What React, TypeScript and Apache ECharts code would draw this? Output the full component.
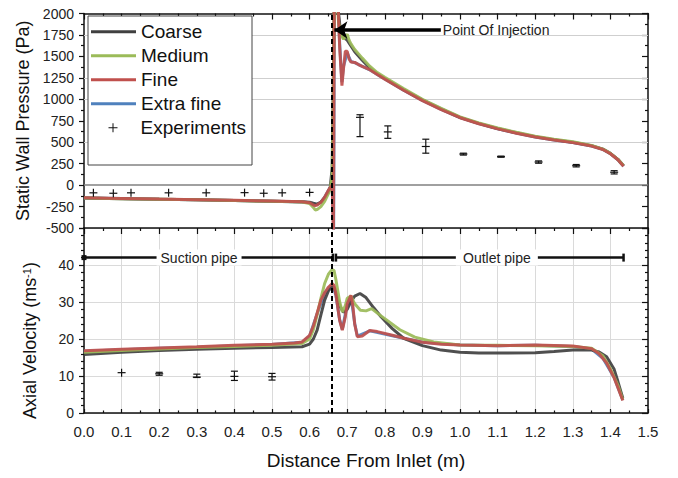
import React, { useEffect, useRef } from 'react';
import * as echarts from 'echarts';

const FONT = '"Liberation Sans", Arial, Helvetica, sans-serif';

const seriesNames = ['Coarse', 'Medium', 'Fine', 'Extra fine'];
const seriesColors = ['#404040', '#9BBB59', '#C0504D', '#4F81BD'];

// ---------- Static wall pressure (Pa) ----------
const coarsePx = [0, 0.1, 0.2, 0.3, 0.4, 0.5, 0.58, 0.6, 0.61, 0.62, 0.63, 0.64, 0.65, 0.655, 0.66, 0.663, 0.666, 0.672, 0.677, 0.682, 0.69, 0.70, 0.72, 0.74, 0.76, 0.78, 0.80, 0.85, 0.90, 0.95, 1.00, 1.05, 1.10, 1.15, 1.20, 1.25, 1.30, 1.35, 1.38, 1.40, 1.42, 1.435];
const coarseP = [-150, -158, -165, -172, -180, -188, -195, -200, -212, -222, -200, -150, -80, -20, 200, 1200, 2300, 2300, 2000, 1800, 1720, 1690, 1555, 1455, 1365, 1298, 1243, 1113, 993, 888, 790, 720, 660, 610, 565, 530, 500, 460, 420, 370, 300, 225];

const mediumPx = [0, 0.1, 0.2, 0.3, 0.4, 0.5, 0.58, 0.6, 0.61, 0.615, 0.62, 0.63, 0.64, 0.65, 0.655, 0.66, 0.663, 0.666, 0.672, 0.677, 0.683, 0.69, 0.70, 0.705, 0.71, 0.72, 0.74, 0.76, 0.78, 0.80, 0.85, 0.90, 0.95, 1.00, 1.05, 1.10, 1.15, 1.20, 1.25, 1.30, 1.35, 1.38, 1.40, 1.42, 1.435];
const mediumP = [-150, -158, -165, -172, -180, -188, -198, -215, -260, -290, -285, -250, -190, -100, -40, 100, 1000, 2300, 2300, 1900, 1760, 1700, 1760, 1690, 1645, 1580, 1480, 1385, 1312, 1257, 1125, 1000, 895, 795, 725, 665, 615, 570, 535, 505, 462, 420, 370, 300, 225];

const finePx = [0, 0.1, 0.2, 0.3, 0.4, 0.5, 0.58, 0.6, 0.61, 0.615, 0.62, 0.63, 0.64, 0.65, 0.66, 0.6635, 0.6655, 0.674, 0.68, 0.686, 0.69, 0.695, 0.70, 0.705, 0.71, 0.72, 0.73, 0.74, 0.76, 0.78, 0.80, 0.85, 0.90, 0.95, 1.00, 1.05, 1.10, 1.15, 1.20, 1.25, 1.30, 1.35, 1.38, 1.40, 1.42, 1.435];
const fineP = [-148, -155, -163, -170, -178, -186, -195, -205, -232, -240, -232, -200, -140, -60, 0, -600, 2300, 2300, 1600, 1160, 1350, 1560, 1560, 1470, 1435, 1430, 1405, 1385, 1345, 1290, 1235, 1105, 985, 880, 785, 715, 655, 605, 560, 525, 495, 455, 415, 365, 295, 220];

const xfinePx = [0, 0.1, 0.2, 0.3, 0.4, 0.5, 0.58, 0.6, 0.61, 0.62, 0.63, 0.64, 0.65, 0.66, 0.664, 0.666, 0.674, 0.68, 0.686, 0.69, 0.70, 0.71, 0.72, 0.74, 0.76, 0.78, 0.80, 0.85, 0.90, 0.95, 1.00, 1.05, 1.10, 1.15, 1.20, 1.25, 1.30, 1.35, 1.38, 1.40, 1.42, 1.435];
const xfineP = [-149, -156, -164, -171, -179, -187, -196, -206, -228, -226, -198, -142, -62, 0, -550, 2300, 2300, 1650, 1200, 1380, 1540, 1440, 1428, 1384, 1344, 1289, 1236, 1106, 986, 882, 786, 716, 656, 606, 561, 526, 496, 456, 416, 366, 296, 221];

// ---------- Axial velocity (m/s) ----------
const coarseVx = [0, 0.1, 0.2, 0.3, 0.4, 0.5, 0.58, 0.6, 0.61, 0.62, 0.63, 0.64, 0.65, 0.66, 0.665, 0.67, 0.68, 0.69, 0.70, 0.71, 0.72, 0.734, 0.75, 0.77, 0.79, 0.82, 0.85, 0.90, 0.95, 1.00, 1.05, 1.10, 1.20, 1.25, 1.30, 1.35, 1.37, 1.39, 1.41, 1.42, 1.433];
const coarseV = [15.8, 16.4, 16.9, 17.2, 17.5, 17.7, 17.9, 18.6, 20.0, 22.4, 26.5, 30.5, 33.0, 34.2, 34.0, 32.5, 29.0, 27.2, 28.0, 30.2, 31.6, 32.3, 31.2, 28.5, 26.0, 22.8, 20.2, 18.2, 17.0, 16.4, 16.2, 16.2, 16.3, 16.6, 17.0, 17.0, 16.5, 15.2, 11.8, 8.5, 4.0];

const mediumVx = [0, 0.1, 0.2, 0.3, 0.4, 0.5, 0.58, 0.6, 0.61, 0.62, 0.63, 0.64, 0.65, 0.66, 0.665, 0.67, 0.68, 0.687, 0.695, 0.70, 0.71, 0.72, 0.735, 0.75, 0.765, 0.78, 0.80, 0.84, 0.88, 0.93, 1.00, 1.10, 1.20, 1.30, 1.35, 1.38, 1.40, 1.42, 1.433];
const mediumV = [16.4, 16.9, 17.3, 17.7, 18.0, 18.3, 18.8, 20.0, 22.5, 26.5, 31.0, 35.0, 37.5, 38.8, 38.5, 36.0, 30.0, 27.3, 29.0, 31.0, 31.6, 29.5, 27.8, 27.6, 28.2, 27.0, 25.5, 22.5, 20.5, 19.2, 18.4, 18.3, 18.2, 18.0, 17.5, 15.5, 12.0, 7.5, 3.6];

const fineVx = [0, 0.1, 0.2, 0.3, 0.4, 0.5, 0.56, 0.58, 0.6, 0.61, 0.62, 0.63, 0.64, 0.65, 0.66, 0.665, 0.67, 0.68, 0.687, 0.695, 0.70, 0.71, 0.715, 0.72, 0.727, 0.74, 0.76, 0.78, 0.82, 0.86, 0.90, 0.95, 1.00, 1.10, 1.20, 1.30, 1.35, 1.37, 1.39, 1.41, 1.433];
const fineV = [16.8, 17.2, 17.6, 17.9, 18.3, 18.6, 18.9, 19.2, 21.0, 23.5, 27.0, 30.5, 32.5, 34.0, 35.0, 34.5, 32.0, 25.0, 22.4, 26.0, 29.5, 31.8, 29.0, 24.0, 20.6, 20.8, 22.3, 22.0, 21.0, 20.0, 19.1, 18.6, 18.4, 18.2, 18.4, 18.1, 17.4, 16.0, 13.5, 9.5, 3.4];

const xfineVx = [0, 0.1, 0.2, 0.3, 0.4, 0.5, 0.58, 0.6, 0.62, 0.64, 0.66, 0.67, 0.68, 0.687, 0.70, 0.71, 0.72, 0.727, 0.76, 0.82, 0.90, 1.00, 1.10, 1.20, 1.30, 1.35, 1.38, 1.41, 1.433];
const xfineV = [16.7, 17.1, 17.5, 17.8, 18.2, 18.5, 19.1, 20.8, 26.8, 32.3, 34.8, 31.8, 25.2, 22.6, 29.3, 31.6, 24.2, 20.8, 22.2, 20.9, 19.1, 18.4, 18.2, 18.3, 18.0, 17.3, 14.8, 9.6, 3.5];

// ---------- Experiments ----------
const expPx = [0.025, 0.078, 0.125, 0.225, 0.325, 0.427, 0.478, 0.527, 0.600, 0.734, 0.808, 0.909, 1.009, 1.109, 1.209, 1.309, 1.410];
const expP = [-90, -95, -90, -90, -90, -88, -95, -90, -85, 790, 620, 450, 362, 331, 269, 226, 150];
const expPLow = [-90, -95, -90, -90, -90, -88, -95, -90, -85, 565, 545, 372, 350, 325, 255, 212, 130];
const expPHigh = [-90, -95, -90, -90, -90, -88, -95, -90, -85, 820, 690, 535, 372, 338, 282, 240, 168];

const expVx = [0.1, 0.2, 0.3, 0.4, 0.5];
const expV = [10.9, 10.6, 9.7, 9.9, 9.8];
const expVLow = [10.9, 10.2, 9.6, 8.8, 8.9];
const expVHigh = [10.9, 11.0, 10.5, 11.3, 10.7];

// ---------- Annotations ----------
const injectionX = 0.664;
const injectionArrowY = 1808;
const injectionArrowFrom = 0.949;
const pipeY = 42;
const suctionRange = [0, 0.662];
const outletRange = [0.67, 1.435];
const suctionLabelX = 0.306;
const outletLabelX = 1.098;
const pressureGridValues = [1750, 1250, 1000, 500];

const zip = (xs: number[], ys: number[]) => xs.map((x, i) => [x, ys[i]]);
const zip4 = (xs: number[], c: number[], lo: number[], hi: number[]) => xs.map((x, i) => [x, c[i], lo[i], hi[i]]);

const pressureData = [zip(coarsePx, coarseP), zip(mediumPx, mediumP), zip(finePx, fineP), zip(xfinePx, xfineP)];
const velocityData = [zip(coarseVx, coarseV), zip(mediumVx, mediumV), zip(fineVx, fineV), zip(xfineVx, xfineV)];

const INK = '#111';
const axisLine = { show: true, onZero: false, lineStyle: { color: INK, width: 1.5 } };
const tickStyle = { color: INK, width: 1.2 };
const PLUS = 'path://M4,0L5,0L5,4L9,4L9,5L5,5L5,9L4,9L4,5L0,5L0,4L4,4Z';

const renderExp = (params: any, api: any) => {
  const x = api.value(0);
  const c = api.value(1);
  const lo = api.value(2);
  const hi = api.value(3);
  const pc = api.coord([x, c]);
  const pl = api.coord([x, lo]);
  const ph = api.coord([x, hi]);
  const st = { stroke: '#111', lineWidth: 1.2, fill: null };
  const ln = (x1: number, y1: number, x2: number, y2: number) => ({ type: 'line', shape: { x1, y1, x2, y2 }, style: st });
  const children: any[] = [];
  if (hi === lo) {
    children.push(ln(pc[0] - 4, pc[1], pc[0] + 4, pc[1]));
    children.push(ln(pc[0], pc[1] - 4, pc[0], pc[1] + 4));
  } else {
    children.push(ln(pc[0] - 4, pc[1], pc[0] + 4, pc[1]));
    children.push(ln(pl[0], pl[1], ph[0], ph[1]));
    children.push(ln(pl[0] - 3.5, pl[1], pl[0] + 3.5, pl[1]));
    children.push(ln(ph[0] - 3.5, ph[1], ph[0] + 3.5, ph[1]));
  }
  return { type: 'group', children };
};

const pipeSeries = (name: string, range: number[], labelX: number, boxW: number, firstSquare: boolean) => ({
  type: 'line',
  name,
  xAxisIndex: 2,
  yAxisIndex: 2,
  data: [[range[0], pipeY], [range[1], pipeY]],
  showSymbol: true,
  symbol: 'rect',
  symbolSize: (_v: any, p: any) => (p.dataIndex === 0 && firstSquare ? [5, 5] : [2.5, 8]),
  lineStyle: { color: INK, width: 2.5 },
  itemStyle: { color: INK },
  silent: true,
  z: 4,
  markPoint: {
    silent: true,
    symbol: 'rect',
    symbolSize: [boxW, 16],
    itemStyle: { color: '#fff' },
    label: { show: true, position: 'inside', formatter: name, color: '#222', fontSize: 14, fontFamily: FONT },
    data: [{ coord: [labelX, pipeY] }],
  },
});

const buildOption = () => {
  const series: any[] = [];
  const order = [3, 0, 1, 2];
  order.forEach((i) => {
    const s: any = {
      type: 'line',
      name: seriesNames[i],
      xAxisIndex: 0,
      yAxisIndex: 0,
      data: pressureData[i],
      showSymbol: false,
      color: seriesColors[i],
      lineStyle: { width: 3, color: seriesColors[i], opacity: 0.92 },
      clip: true,
      z: 2,
    };
    if (i === 3) {
      s.markLine = {
        silent: true,
        symbol: 'none',
        z: 1,
        label: { show: false },
        data: [
          ...pressureGridValues.map((v) => ({ yAxis: v, lineStyle: { color: '#cfcfcf', width: 1, type: 'solid' } })),
          { yAxis: 0, lineStyle: { color: '#808080', width: 1.6, type: 'solid' } },
        ],
      };
    }
    if (i === 2) {
      s.markLine = {
        silent: true,
        symbol: 'none',
        label: { show: false },
        data: [
          { xAxis: injectionX, lineStyle: { type: [5, 3], color: '#000', width: 2 } },
          [
            {
              coord: [injectionArrowFrom, injectionArrowY],
              symbol: 'none',
              lineStyle: { color: '#000', width: 3.5, type: 'solid' },
              label: { show: true, position: 'start', distance: 2, formatter: 'Point Of Injection', color: '#222', fontSize: 14, fontFamily: FONT },
            },
            { coord: [injectionX + 0.002, injectionArrowY], symbol: 'arrow', symbolSize: 13 },
          ],
        ],
      };
    }
    series.push(s);
  });
  order.forEach((i) => {
    const s: any = {
      type: 'line',
      name: seriesNames[i],
      xAxisIndex: 2,
      yAxisIndex: 2,
      data: velocityData[i],
      showSymbol: false,
      color: seriesColors[i],
      lineStyle: { width: 3, color: seriesColors[i], opacity: 0.92 },
      clip: true,
      z: 2,
    };
    if (i === 2) {
      s.markLine = {
        silent: true,
        symbol: 'none',
        label: { show: false },
        data: [{ xAxis: injectionX, lineStyle: { type: [5, 3], color: '#000', width: 2 } }],
      };
    }
    series.push(s);
  });
  series.push({
    type: 'custom',
    name: 'Experiments',
    xAxisIndex: 0,
    yAxisIndex: 0,
    dimensions: ['x', 'y', 'lo', 'hi'],
    encode: { x: 0, y: 1 },
    data: zip4(expPx, expP, expPLow, expPHigh),
    renderItem: renderExp,
    itemStyle: { color: '#111' },
    z: 3,
  });
  series.push({
    type: 'custom',
    name: 'Experiments',
    xAxisIndex: 2,
    yAxisIndex: 2,
    dimensions: ['x', 'y', 'lo', 'hi'],
    encode: { x: 0, y: 1 },
    data: zip4(expVx, expV, expVLow, expVHigh),
    renderItem: renderExp,
    itemStyle: { color: '#111' },
    z: 3,
  });
  series.push(pipeSeries('Suction pipe', suctionRange, suctionLabelX, 85, true));
  series.push(pipeSeries('Outlet pipe', outletRange, outletLabelX, 82, false));

  const xBase = { type: 'value', min: 0, max: 1.5, interval: 0.1, axisLine, splitLine: { show: false } };
  const legendText = { fontSize: 19, lineHeight: 20, color: '#111', fontFamily: FONT };
  const plainNum = (v: number) => String(v);

  return {
    animation: false,
    backgroundColor: '#fff',
    textStyle: { fontFamily: FONT },
    grid: [
      { left: 84, top: 13.5, width: 564, height: 214.5, outerBoundsMode: 'none', containLabel: false },
      { left: 84, top: 228, width: 564, height: 185, outerBoundsMode: 'none', containLabel: false },
    ],
    xAxis: [
      {
        ...xBase,
        gridIndex: 0,
        position: 'bottom',
        axisTick: { show: true, inside: false, length: 6, lineStyle: tickStyle },
        minorTick: { show: true, splitNumber: 2, length: 3, lineStyle: tickStyle },
        axisLabel: { show: false },
      },
      {
        ...xBase,
        gridIndex: 0,
        position: 'top',
        axisTick: { show: true, inside: true, length: 6, lineStyle: tickStyle },
        minorTick: { show: true, splitNumber: 2, length: 3, lineStyle: tickStyle },
        axisLabel: { show: false },
      },
      {
        ...xBase,
        gridIndex: 1,
        position: 'bottom',
        axisTick: { show: true, inside: true, length: 4, lineStyle: tickStyle },
        minorTick: { show: true, splitNumber: 2, length: 2.5, lineStyle: tickStyle },
        axisLabel: { show: true, fontSize: 15, margin: 11, color: '#222', fontFamily: FONT, formatter: (v: number) => v.toFixed(1) },
        splitLine: { show: true, lineStyle: { color: '#dadada', width: 1 } },
        name: 'Distance From Inlet (m)',
        nameLocation: 'middle',
        nameGap: 38,
        nameTextStyle: { fontSize: 19, color: '#111', fontFamily: FONT },
      },
    ],
    yAxis: [
      {
        type: 'value',
        gridIndex: 0,
        position: 'left',
        min: -500,
        max: 2000,
        interval: 250,
        axisLine,
        axisTick: { show: true, inside: false, length: 5, lineStyle: tickStyle },
        minorTick: { show: true, splitNumber: 2, length: 3, lineStyle: tickStyle },
        axisLabel: { show: true, fontSize: 14, margin: 10, color: '#222', fontFamily: FONT, formatter: plainNum },
        splitLine: { show: false },
        name: 'Static Wall Pressure (Pa)',
        nameLocation: 'middle',
        nameGap: 45,
        nameRotate: 90,
        nameTextStyle: { fontSize: 18, color: '#111', fontFamily: FONT },
      },
      {
        type: 'value',
        gridIndex: 0,
        position: 'right',
        min: -500,
        max: 2000,
        interval: 250,
        axisLine,
        axisTick: { show: true, inside: true, length: 6, lineStyle: tickStyle },
        minorTick: { show: true, splitNumber: 2, length: 3, lineStyle: tickStyle },
        axisLabel: { show: false },
        splitLine: { show: false },
      },
      {
        type: 'value',
        gridIndex: 1,
        position: 'left',
        min: 0,
        max: 50,
        interval: 10,
        axisLine,
        axisTick: { show: true, inside: false, length: 5, lineStyle: tickStyle },
        minorTick: { show: true, splitNumber: 5, length: 3, lineStyle: tickStyle },
        axisLabel: { show: true, fontSize: 14, margin: 10, color: '#222', fontFamily: FONT, showMaxLabel: false, formatter: plainNum },
        splitLine: { show: true, lineStyle: { color: '#dadada', width: 1 } },
        name: 'Axial Velocity (ms{sup|-1})',
        nameLocation: 'middle',
        nameGap: 45,
        nameRotate: 90,
        nameTextStyle: {
          fontSize: 18,
          color: '#111',
          fontFamily: FONT,
          padding: [0, 40, 0, 0],
          rich: { sup: { fontSize: 11, verticalAlign: 'top', color: '#111', fontFamily: FONT, lineHeight: 18 } },
        },
      },
      {
        type: 'value',
        gridIndex: 1,
        position: 'right',
        min: 0,
        max: 50,
        interval: 10,
        axisLine,
        axisTick: { show: true, inside: true, length: 6, lineStyle: tickStyle },
        minorTick: { show: true, splitNumber: 5, length: 3, lineStyle: tickStyle },
        axisLabel: { show: false },
        splitLine: { show: false },
      },
    ],
    legend: [
      {
        orient: 'vertical',
        left: 91,
        top: 21.7,
        padding: 0,
        itemWidth: 45,
        itemHeight: 3,
        itemGap: 4,
        z: 10,
        selectedMode: false,
        textStyle: legendText,
        data: seriesNames.map((n) => ({ name: n, icon: 'rect' })),
      },
      {
        orient: 'vertical',
        left: 108.5,
        top: 117.7,
        padding: 0,
        itemWidth: 45,
        itemHeight: 9,
        z: 10,
        selectedMode: false,
        textStyle: legendText,
        data: [{ name: 'Experiments', icon: PLUS }],
      },
    ],
    graphic: [
      {
        type: 'rect',
        z: 9,
        silent: true,
        shape: { x: 88, y: 16, width: 164, height: 149 },
        style: { fill: '#fff', stroke: '#444', lineWidth: 1 },
      },
    ],
    series,
  };
};

export default function App() {
  const ref = useRef<HTMLDivElement>(null);
  useEffect(() => {
    if (!ref.current) return;
    const chart = echarts.init(ref.current, null, { renderer: 'svg' });
    chart.setOption(buildOption() as any);
    return () => chart.dispose();
  }, []);
  return (
    <div
      ref={ref}
      style={{ position: 'absolute', left: 0, top: 0, width: 678, height: 478, background: '#fff' }}
    />
  );
}
